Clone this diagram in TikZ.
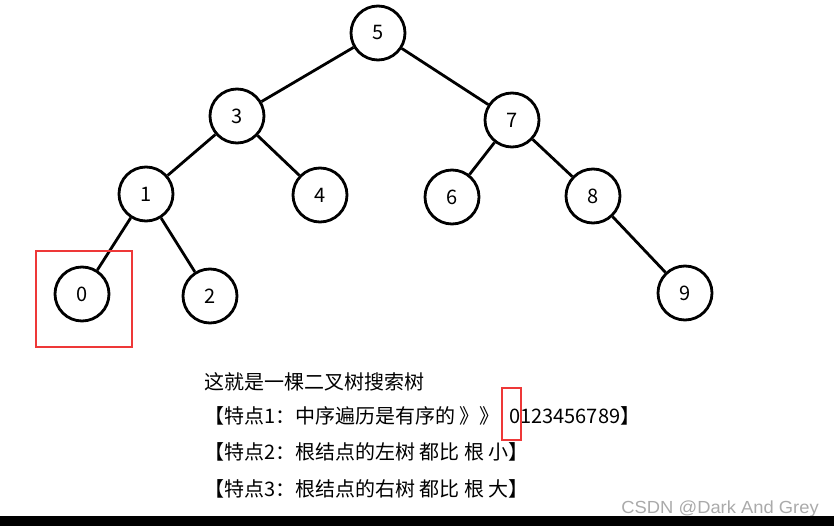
\documentclass[tikz,border=0pt]{standalone}
\usepackage{fontspec}
\setmainfont{Noto Sans CJK SC}
\newfontfamily\wmfont{Liberation Sans}
\definecolor{markred}{RGB}{238,56,56}
\definecolor{wmgrey}{RGB}{170,170,170}
\tikzset{
    key/.style={draw, circle, line width=2.8pt, minimum size=54pt, inner sep=0pt, font=\fontsize{20pt}{24pt}\selectfont},
    edge/.style={line width=2.8pt},
    mark box/.style={draw=markred, line width=2.8pt},
    note/.style={anchor=base west, inner sep=0pt, font=\fontsize{20pt}{24pt}\selectfont}
}

\begin{document}
\begin{tikzpicture}[x=1pt, y=-1pt]
            \useasboundingbox (0, 0) rectangle (834, 526);
            \node[key] (n5) at (378, 33) {5};
            \node[key] (n3) at (237, 116) {3};
            \node[key] (n7) at (512, 120) {7};
            \node[key] (n1) at (146, 194) {1};
            \node[key] (n4) at (320, 195) {4};
            \node[key] (n6) at (452, 197) {6};
            \node[key] (n8) at (593, 196) {8};
            \node[key] (n0) at (82, 294) {0};
            \node[key] (n2) at (210, 296) {2};
            \node[key] (n9) at (685, 293) {9};
            \draw[edge] (n5) -- (n3);
            \draw[edge] (n5) -- (n7);
            \draw[edge] (n3) -- (n1);
            \draw[edge] (n3) -- (n4);
            \draw[edge] (n7) -- (n6);
            \draw[edge] (n7) -- (n8);
            \draw[edge] (n1) -- (n0);
            \draw[edge] (n1) -- (n2);
            \draw[edge] (n8) -- (n9);
            \draw[mark box] (36, 251) rectangle (132, 347);
            \node[note] (line1) at (204, 389) {这就是一棵二叉树搜索树};
            \node[note] (line2) at (204, 423) {【特点1：中序遍历是有序的 》》\hspace{9.5pt}0123456789】};
            \node[note] (line3) at (204, 459) {【特点2：根结点的左树 都比 根 小】};
            \node[note] (line4) at (204, 496) {【特点3：根结点的右树 都比 根 大】};
            \draw[mark box] (502, 388) rectangle (521, 440);
            \node[anchor=base east, inner sep=0pt, text=wmgrey, xscale=1.05, font=\wmfont\fontsize{17.5pt}{20pt}\selectfont] (mark) at (819, 513) {CSDN @Dark And Grey};
            \fill (0, 516) rectangle (834, 526);
        \end{tikzpicture}
\end{document}
